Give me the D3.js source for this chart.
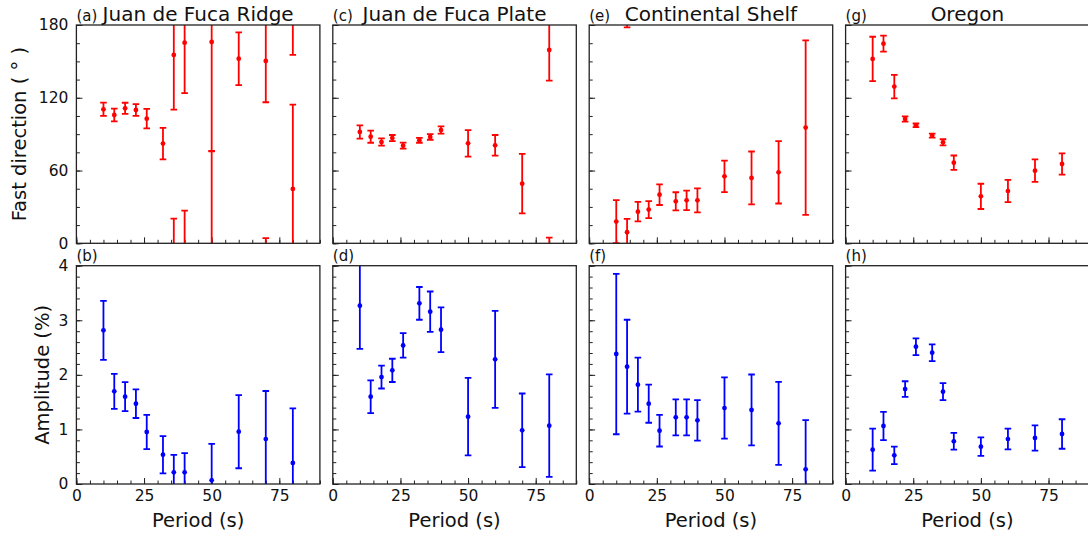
<!DOCTYPE html>
<html>
<head>
<meta charset="utf-8">
<script src="https://cdn.jsdelivr.net/npm/d3@7"></script>
<style>
  body { margin: 0; background: #fff; }
  svg { font-family: "DejaVu Sans", sans-serif; }
</style>
</head>
<body>
<div id="chart"></div>
<script>
// periods (s), shared by every panel
const periods = [10, 14, 18, 22, 26, 32, 36, 40, 50, 60, 70, 80];

const regions = ["Juan de Fuca Ridge", "Juan de Fuca Plate", "Continental Shelf", "Oregon"];
const topLetters = ["(a)", "(c)", "(e)", "(g)"];
const bottomLetters = ["(b)", "(d)", "(f)", "(h)"];

// fast direction (deg) and its error
const dirRidge = [110.5, 105.8, 111.3, 109.9, 102.8, 82.2, 155.3, 165.4, 166, 152.2, 150.3, 44.8];
const dirRidgeErr = [5.5, 5.3, 4.6, 4.8, 8, 13, 45, 41.5, 89.8, 21.7, 34, 69.5];
const dirPlate = [91.8, 87.9, 83.5, 86.8, 80.5, 84.9, 87.7, 93.4, 82.4, 80.8, 49.2, 159.4];
const dirPlateErr = [5.5, 5, 3, 2.5, 2.5, 2, 2.3, 3, 11, 8.5, 24.5, 25.3];
const dirShelf = [17.9, 9.1, 26.1, 27.8, 40.1, 34.6, 35.4, 35.4, 55.2, 53.9, 58.5, 95.4];
const dirShelfErr = [17.7, 11.1, 8.1, 7, 8.5, 7.5, 8, 9.9, 13, 21.8, 25.7, 72];
const dirOregon = [152, 164.6, 129.2, 102.5, 97.3, 88.8, 83.3, 66.5, 38.7, 43.1, 59.9, 65.4];
const dirOregonErr = [18.3, 6.6, 9.7, 2.2, 1.5, 1.7, 2.5, 5.9, 10.4, 9.2, 9.3, 8.7];

// anisotropy amplitude (%) and its error
const ampRidge = [2.815, 1.698, 1.6, 1.472, 0.953, 0.537, 0.214, 0.214, 0.067, 0.959, 0.824, 0.385];
const ampRidgeErr = [0.54, 0.32, 0.266, 0.263, 0.315, 0.342, 0.32, 0.35, 0.67, 0.67, 0.88, 1.0];
const ampPlate = [3.267, 1.6, 1.96, 2.082, 2.54, 3.31, 3.157, 2.827, 1.234, 2.284, 0.983, 1.069];
const ampPlateErr = [0.79, 0.30, 0.21, 0.213, 0.223, 0.3, 0.37, 0.41, 0.71, 0.89, 0.675, 0.94];
const ampShelf = [2.382, 2.15, 1.82, 1.472, 0.977, 1.221, 1.221, 1.166, 1.392, 1.356, 1.111, 0.269];
const ampShelfErr = [1.47, 0.86, 0.495, 0.35, 0.29, 0.33, 0.33, 0.37, 0.56, 0.65, 0.76, 0.9];
const ampOregon = [0.629, 1.063, 0.525, 1.74, 2.516, 2.406, 1.692, 0.782, 0.684, 0.824, 0.843, 0.916];
const ampOregonErr = [0.385, 0.26, 0.16, 0.143, 0.153, 0.153, 0.155, 0.153, 0.17, 0.19, 0.23, 0.27];

const dirSeries = [[dirRidge, dirRidgeErr], [dirPlate, dirPlateErr], [dirShelf, dirShelfErr], [dirOregon, dirOregonErr]];
const ampSeries = [[ampRidge, ampRidgeErr], [ampPlate, ampPlateErr], [ampShelf, ampShelfErr], [ampOregon, ampOregonErr]];

// layout
const W = 1088, H = 540;
const colLeft = [76.4, 332.8, 589.2, 845.6];
const panelW = 243.5;
const rowTop = [25, 265.7];
const panelH = 218.3;

const svg = d3.select("#chart").append("svg")
  .attr("width", W)
  .attr("height", H);

const x = d3.scaleLinear().domain([0, 90]).range([0, panelW]);
const yDir = d3.scaleLinear().domain([0, 180]).range([panelH, 0]);
const yAmp = d3.scaleLinear().domain([0, 4]).range([panelH, 0]);

// direction is 180-periodic, so error bars wrap round the axis
function dirBars(v, e) {
  let lo = v - e, hi = v + e;
  let segs = [[Math.max(lo, 0), Math.min(hi, 180)]], caps = [];
  if (lo >= 0) caps.push(lo);
  if (hi <= 180) caps.push(hi);
  if (hi > 180) { segs.push([0, hi - 180]); caps.push(hi - 180); }
  if (lo < 0) { segs.push([lo + 180, 180]); caps.push(lo + 180); }
  return {segs: segs, caps: caps};
}
function ampBars(v, e) {
  return {segs: [[v - e, v + e]], caps: [v - e, v + e]};
}

let drawPanel = (row, col) => {
  let isDir = row == 0;
  let y = isDir ? yDir : yAmp;
  let vals = isDir ? dirSeries[col][0] : ampSeries[col][0];
  let errs = isDir ? dirSeries[col][1] : ampSeries[col][1];
  let color = isDir ? "#ff0000" : "#0000ff";
  let id = "clip" + row + col;

  let g = svg.append("g")
    .attr("transform", "translate(" + colLeft[col] + "," + rowTop[row] + ")");

  g.append("clipPath").attr("id", id)
    .append("rect").attr("width", panelW).attr("height", panelH);

  // minor + major ticks, pointing in
  let xMinor = g.append("g").attr("transform", "translate(0," + panelH + ")")
    .call(d3.axisBottom(x).tickValues(d3.range(0, 91, 5)).tickSize(-3.5).tickFormat(""));
  let xMajor = g.append("g").attr("transform", "translate(0," + panelH + ")")
    .call(d3.axisBottom(x).tickValues([0, 25, 50, 75]).tickSize(-6).tickPadding(6)
      .tickFormat(row == 1 ? d3.format("d") : ""));

  let yMinorVals = isDir ? d3.range(0, 181, 15) : d3.range(0, 4.01, 0.2);
  let yMajorVals = isDir ? [0, 60, 120, 180] : [0, 1, 2, 3, 4];
  let yMinor = g.append("g")
    .call(d3.axisLeft(y).tickValues(yMinorVals).tickSize(-3.5).tickFormat(""));
  let yMajor = g.append("g")
    .call(d3.axisLeft(y).tickValues(yMajorVals).tickSize(-6).tickPadding(8)
      .tickFormat(col == 0 ? d3.format("d") : ""));

  [xMinor, xMajor, yMinor, yMajor].forEach(a => {
    a.select(".domain").remove();
    a.selectAll("line").attr("stroke", "#222").attr("stroke-width", 1);
    a.selectAll("text").attr("fill", "#111").style("font-size", "15.5px")
      .style("font-family", "DejaVu Sans");
  });

  // error bars and points
  let plot = g.append("g").attr("clip-path", "url(#" + id + ")");
  periods.forEach((p, i) => {
    let b = isDir ? dirBars(vals[i], errs[i]) : ampBars(vals[i], errs[i]);
    b.segs.forEach(s => {
      plot.append("line")
        .attr("x1", x(p)).attr("x2", x(p))
        .attr("y1", y(s[0])).attr("y2", y(s[1]))
        .attr("stroke", color).attr("stroke-width", 1.8);
    });
    b.caps.forEach(c => {
      plot.append("line")
        .attr("x1", x(p) - 3.3).attr("x2", x(p) + 3.3)
        .attr("y1", y(c)).attr("y2", y(c))
        .attr("stroke", color).attr("stroke-width", 1.8);
    });
    plot.append("circle")
      .attr("cx", x(p)).attr("cy", y(vals[i]))
      .attr("r", 2.4).attr("fill", color);
  });

  // frame
  g.append("rect")
    .attr("width", panelW).attr("height", panelH)
    .attr("fill", "none").attr("stroke", "#222").attr("stroke-width", 1.3);

  // panel letter
  svg.append("text")
    .attr("x", colLeft[col])
    .attr("y", row == 0 ? 20.5 : 260.5)
    .style("font-size", "15px")
    .attr("fill", "#111")
    .text(row == 0 ? topLetters[col] : bottomLetters[col]);

  if (row == 0) {
    svg.append("text")
      .attr("x", colLeft[col] + panelW / 2)
      .attr("y", 20.5)
      .attr("text-anchor", "middle")
      .style("font-size", "20px")
      .attr("fill", "#111")
      .text(regions[col]);
  } else {
    svg.append("text")
      .attr("x", colLeft[col] + x(45))
      .attr("y", 527)
      .attr("text-anchor", "middle")
      .style("font-size", "19.5px")
      .attr("fill", "#111")
      .text("Period (s)");
  }
}

for (let r = 0; r < 2; r++) {
  for (let c = 0; c < 4; c++) drawPanel(r, c);
}

// y axis titles
svg.append("text")
  .attr("transform", "translate(26," + (rowTop[0] + panelH / 2) + ") rotate(-90)")
  .attr("text-anchor", "middle")
  .style("font-size", "19.5px")
  .attr("fill", "#111")
  .text("Fast direction ( \u00b0 )");

svg.append("text")
  .attr("transform", "translate(49," + (rowTop[1] + panelH / 2) + ") rotate(-90)")
  .attr("text-anchor", "middle")
  .style("font-size", "19.5px")
  .attr("fill", "#111")
  .text("Amplitude (%)");
</script>
</body>
</html>
